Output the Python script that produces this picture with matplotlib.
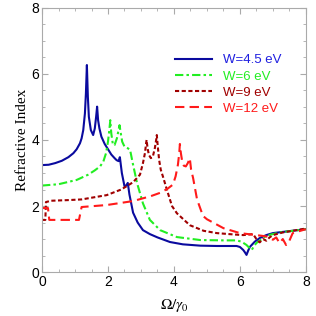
import matplotlib

matplotlib.use("Agg")
import matplotlib.pyplot as plt
from matplotlib.ticker import MultipleLocator

plt.rcParams["font.family"] = ["Liberation Sans", "DejaVu Sans"]
plt.rcParams["mathtext.fontset"] = "stix"

# W = 4.5 eV
x_w45 = [0, 0.2, 0.4, 0.6, 0.8, 0.95, 1.05, 1.15, 1.2, 1.25, 1.3, 1.33, 1.36, 1.39,
         1.42, 1.48, 1.55, 1.6, 1.64, 1.67, 1.7, 1.74, 1.8, 1.9, 2.0, 2.1, 2.2,
         2.26, 2.32, 2.36, 2.42, 2.5, 2.55, 2.6, 2.65, 2.76, 2.9, 3.06, 3.27, 3.5,
         3.88, 4.27, 4.8, 5.3, 5.9, 6.0, 6.1, 6.15, 6.2, 6.25, 6.3, 6.45, 6.6, 6.8,
         7.0, 7.5, 8.0]
y_w45 = [3.24, 3.25, 3.3, 3.37, 3.48, 3.6, 3.72, 3.9, 4.05, 4.3, 4.8, 5.4, 6.27,
         5.3, 4.7, 4.3, 4.15, 4.35, 4.7, 5.01, 4.6, 4.35, 4.1, 3.88, 3.72, 3.56,
         3.45, 3.39, 3.36, 3.48, 3.0, 2.6, 2.62, 2.7, 2.35, 1.8, 1.5, 1.27, 1.15,
         1.05, 0.91, 0.84, 0.8, 0.79, 0.79, 0.76, 0.67, 0.6, 0.52, 0.65, 0.76,
         0.92, 1.03, 1.12, 1.18, 1.24, 1.3]

# W = 6 eV
x_w6 = [0, 0.5, 1.05, 1.4, 1.6, 1.76, 1.86, 1.94, 2.0, 2.04, 2.07, 2.1, 2.15, 2.2,
        2.27, 2.32, 2.35, 2.38, 2.43, 2.5, 2.6, 2.67, 2.75, 2.88, 3.06, 3.27, 3.58,
        4.09, 4.8, 5.5, 5.9, 6.05, 6.2, 6.3, 6.36, 6.42, 6.5, 6.8, 7.2, 7.6, 8.0]
y_w6 = [2.62, 2.66, 2.79, 2.95, 3.08, 3.2, 3.35, 3.6, 3.95, 4.3, 4.6, 4.2, 3.85,
        3.85, 4.05, 4.3, 4.45, 4.25, 3.95, 3.8, 3.75, 3.7, 3.3, 2.7, 2.08, 1.58,
        1.27, 1.06, 0.97, 0.96, 0.96, 0.92, 0.82, 0.72, 0.67, 0.78, 0.88, 1.1,
        1.2, 1.25, 1.3]

# W = 9 eV
x_w9 = [0, 0.1, 0.12, 0.27, 0.8, 1.2, 1.96, 2.4, 2.76, 2.97, 3.06, 3.12, 3.15,
        3.17, 3.2, 3.24, 3.3, 3.36, 3.42, 3.46, 3.48, 3.51, 3.55, 3.6, 3.67, 3.79,
        3.94, 4.09, 4.48, 4.9, 5.3, 5.8, 6.1, 6.4, 6.5, 6.6, 6.7, 6.8, 6.9, 7.0,
        7.3, 7.6, 8.0]
y_w9 = [1.58, 1.58, 2.12, 2.16, 2.18, 2.2, 2.33, 2.5, 2.72, 2.95, 3.3, 3.6, 3.85,
        4.0, 3.75, 3.55, 3.45, 3.5, 3.75, 4.0, 4.15, 3.8, 3.4, 3.1, 2.88, 2.48,
        2.0, 1.78, 1.42, 1.25, 1.18, 1.14, 1.12, 1.15, 1.0, 0.9, 1.0, 0.95, 1.05,
        1.12, 1.2, 1.25, 1.32]

# W = 12 eV
x_w12 = [0, 0.18, 0.22, 1.0, 1.12, 1.2, 1.96, 2.76, 3.3, 3.58, 3.8, 3.97, 4.05,
         4.12, 4.16, 4.18, 4.21, 4.25, 4.3, 4.36, 4.42, 4.48, 4.52, 4.58, 4.7,
         4.88, 5.0, 5.5, 6.0, 6.5, 6.8, 7.0, 7.1, 7.2, 7.3, 7.4, 7.5, 7.6, 8.0]
y_w12 = [1.94, 1.94, 1.58, 1.58, 1.58, 1.97, 2.03, 2.15, 2.3, 2.4, 2.52, 2.65,
         2.9, 3.25, 3.6, 3.88, 3.6, 3.35, 3.22, 3.2, 3.3, 3.45, 3.1, 2.85, 2.2,
         1.7, 1.6, 1.33, 1.18, 1.12, 1.08, 0.98, 1.05, 0.88, 1.0, 0.82, 0.95,
         1.18, 1.3]

labels = ["W=4.5 eV", "W=6 eV", "W=9 eV", "W=12 eV"]
line_colors = ["#0a0a9e", "#22ee22", "#a00000", "#ff1a1a"]
text_colors = ["#2020e0", "#22ee22", "#a00000", "#ff1a1a"]

fig = plt.figure(figsize=(3.16, 3.16), dpi=100)
ax = fig.add_axes([0.133, 0.139, 0.835, 0.836])

ax.plot(x_w45, y_w45, "-", color=line_colors[0], lw=1.5, label=labels[0])
ax.plot(x_w6, y_w6, color=line_colors[1], lw=1.5, dashes=(4, 1.5, 1.2, 1.5),
        label=labels[1])
ax.plot(x_w9, y_w9, color=line_colors[2], lw=1.5, dashes=(2, 1.2), label=labels[2])
ax.plot(x_w12, y_w12, color=line_colors[3], lw=1.5, dashes=(4.5, 2.5), label=labels[3])

ax.set_xlim(0, 8)
ax.set_ylim(0, 8)
ax.xaxis.set_major_locator(MultipleLocator(2))
ax.yaxis.set_major_locator(MultipleLocator(2))
ax.xaxis.set_minor_locator(MultipleLocator(0.5))
ax.yaxis.set_minor_locator(MultipleLocator(0.5))
ax.tick_params(which="both", direction="in", top=True, right=True, color="#aaaaaa",
               labelsize=10, pad=2)
ax.tick_params(which="major", length=4)
ax.tick_params(which="minor", length=2)
for s in ax.spines.values():
    s.set_color("#aaaaaa")

ax.set_ylabel("Refractive Index", family="Liberation Serif", fontsize=11, labelpad=2)
ax.set_xlabel(r"$\Omega/\gamma_0$", fontsize=11, labelpad=6)

ax.legend(loc="upper left", bbox_to_anchor=(0.46, 0.87), frameon=False, fontsize=9.5,
          handlelength=2.8, handletextpad=0.8, labelspacing=0.3,
          labelcolor=text_colors)

fig.savefig("out.png", dpi=100)
